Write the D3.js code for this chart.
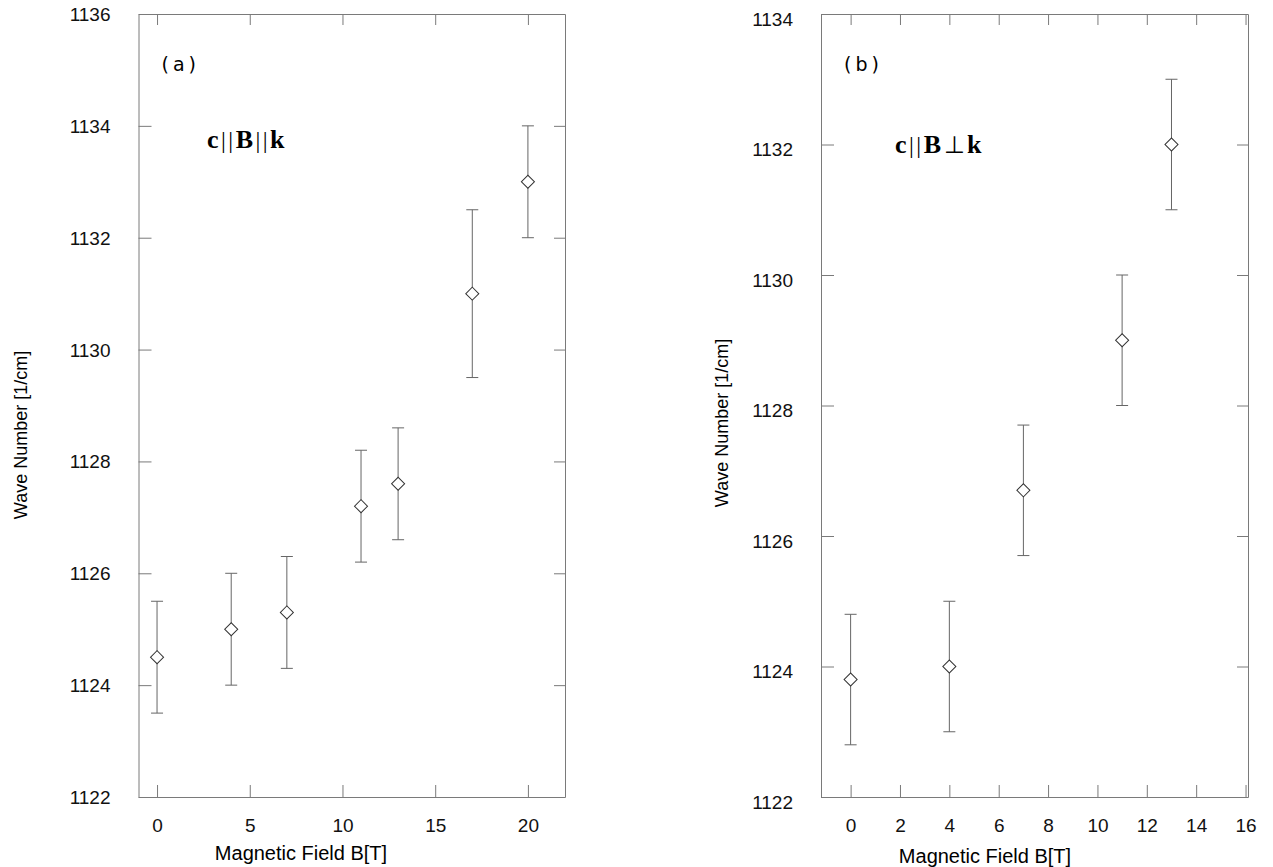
<!DOCTYPE html>
<html>
<head>
<meta charset="utf-8">
<script src="https://cdnjs.cloudflare.com/ajax/libs/d3/7.8.5/d3.min.js"></script>
<style>
body { margin: 0; background: #fff; }
.axis path, .axis line { stroke: #7a7a7a; stroke-width: 1; }
.axis text { font-family: "Liberation Sans", Arial, sans-serif; font-size: 19px; fill: #111; }
</style>
</head>
<body>
<div id="chart"></div>
<script>
// Data
// ========================
// panel (a): c || B || k
var fieldA = [0, 4, 7, 11, 13, 17, 20];
var waveA = [1124.5, 1125.0, 1125.3, 1127.2, 1127.6, 1131.0, 1133.0];
var errA = [1, 1, 1, 1, 1, 1.5, 1];

// panel (b): c || B perp k
var fieldB = [0, 4, 7, 11, 13];
var waveB = [1123.8, 1124.0, 1126.7, 1129.0, 1132.0];
var errB = [1, 1, 1, 1, 1];

var xTicksA = [0, 5, 10, 15, 20];
var yTicksA = [1122, 1124, 1126, 1128, 1130, 1132, 1134, 1136];
var xTicksB = [0, 2, 4, 6, 8, 10, 12, 14, 16];
var yTicksB = [1122, 1124, 1126, 1128, 1130, 1132, 1134];

var svgWidth = 1273;
var svgHeight = 867;

var svg = d3
	.select("#chart")
	.append("svg")
	.attr("width", svgWidth)
	.attr("height", svgHeight);

// Draw one panel (frame, inward ticks, error bars, diamonds)
// ==========================================================
function drawPanel(p) {
	var xScale = d3.scaleLinear().domain(p.xDomain).range([p.left, p.right]);
	var yScale = d3.scaleLinear().domain(p.yDomain).range([p.bottom, p.top]);

	var g = svg.append("g");

	// bottom axis with labels
	g.append("g")
		.attr("class", "axis")
		.attr("transform", `translate(0, ${p.bottom})`)
		.call(d3.axisBottom(xScale).tickValues(p.xTicks).tickFormat(d3.format("d"))
			.tickSizeInner(-12).tickSizeOuter(0).tickPadding(22));

	// top axis, ticks only
	g.append("g")
		.attr("class", "axis")
		.attr("transform", `translate(0, ${p.top})`)
		.call(d3.axisTop(xScale).tickValues(p.xTicks).tickSizeInner(-11).tickSizeOuter(0).tickFormat(""));

	// left axis with labels
	g.append("g")
		.attr("class", "axis")
		.attr("transform", `translate(${p.left}, 0)`)
		.call(d3.axisLeft(yScale).tickValues(p.yTicks).tickFormat(d3.format("d"))
			.tickSizeInner(-13).tickSizeOuter(0).tickPadding(28))
		.selectAll("text")
		.attr("dy", p.yDy);

	// right axis, ticks only
	g.append("g")
		.attr("class", "axis")
		.attr("transform", `translate(${p.right}, 0)`)
		.call(d3.axisRight(yScale).tickValues(p.yTicks).tickSizeInner(-11).tickSizeOuter(0).tickFormat(""));

	var points = p.x.map((d, i) => ({ x: d, y: p.y[i], e: p.err[i] }));

	// error bars
	var bars = g.selectAll(".ebar")
		.data(points)
		.enter()
		.append("g")
		.attr("class", "ebar")
		.attr("stroke", "#666")
		.attr("stroke-width", 1);

	bars.append("line")
		.attr("x1", d => xScale(d.x))
		.attr("x2", d => xScale(d.x))
		.attr("y1", d => yScale(d.y - d.e))
		.attr("y2", d => yScale(d.y + d.e));

	bars.append("line")
		.attr("x1", d => xScale(d.x) - 6)
		.attr("x2", d => xScale(d.x) + 6)
		.attr("y1", d => yScale(d.y + d.e))
		.attr("y2", d => yScale(d.y + d.e));

	bars.append("line")
		.attr("x1", d => xScale(d.x) - 6)
		.attr("x2", d => xScale(d.x) + 6)
		.attr("y1", d => yScale(d.y - d.e))
		.attr("y2", d => yScale(d.y - d.e));

	// open diamonds
	g.selectAll(".pt")
		.data(points)
		.enter()
		.append("path")
		.attr("class", "pt")
		.attr("d", d3.symbol().type(d3.symbolSquare).size(85))
		.attr("transform", d => `translate(${xScale(d.x)}, ${yScale(d.y)}) rotate(45)`)
		.attr("fill", "#fff")
		.attr("stroke", "#333")
		.attr("stroke-width", 1);

	// axis titles
	g.append("text")
		.attr("x", p.xTitleX)
		.attr("y", p.xTitleY)
		.attr("text-anchor", "middle")
		.attr("dominant-baseline", "middle")
		.style("font-family", "'Liberation Sans', Arial, sans-serif")
		.style("font-size", "20px")
		.text("Magnetic Field B[T]");

	g.append("text")
		.attr("transform", `translate(${p.yTitleX}, ${p.yTitleY}) rotate(-90)`)
		.attr("text-anchor", "middle")
		.attr("dominant-baseline", "middle")
		.style("font-family", "'Liberation Sans', Arial, sans-serif")
		.style("font-size", "18px")
		.text("Wave Number [1/cm]");

	// panel tag
	g.append("text")
		.attr("x", p.left + 23)
		.attr("y", 71)
		.style("font-family", "'DejaVu Sans', sans-serif")
		.style("font-size", "19px")
		.style("letter-spacing", "4px")
		.text(p.tag);

	// geometry label
	var lab = g.append("text")
		.attr("x", p.labX)
		.attr("y", p.labY)
		.style("font-family", "'Liberation Serif', 'Times New Roman', serif")
		.style("font-size", "26px")
		.style("letter-spacing", "2.5px");
	p.label.forEach(function (part) {
		lab.append("tspan")
			.style("font-weight", part[1] ? "bold" : "normal")
			.style("font-size", part[1] ? "26px" : "24px")
			.text(part[0]);
	});
}

drawPanel({
	x: fieldA, y: waveA, err: errA,
	xTicks: xTicksA, yTicks: yTicksA,
	xDomain: [-1, 22], yDomain: [1122, 1136],
	left: 138.5, right: 565, top: 14, bottom: 797,
	yDy: "0.34em",
	xTitleX: 301, xTitleY: 855,
	yTitleX: 22, yTitleY: 435,
	tag: "(a)",
	label: [["c", 1], ["||", 0], ["B", 1], ["||", 0], ["k", 1]],
	labX: 207, labY: 148
});

drawPanel({
	x: fieldB, y: waveB, err: errB,
	xTicks: xTicksB, yTicks: yTicksB,
	xDomain: [-1.2, 16.1], yDomain: [1122, 1134],
	left: 821, right: 1248, top: 14, bottom: 797,
	yDy: "0.6em",
	xTitleX: 985, xTitleY: 858,
	yTitleX: 723, yTitleY: 423,
	tag: "(b)",
	label: [["c", 1], ["||", 0], ["B", 1], ["\u22A5", 0], ["k", 1]],
	labX: 895, labY: 153
});
</script>
</body>
</html>
